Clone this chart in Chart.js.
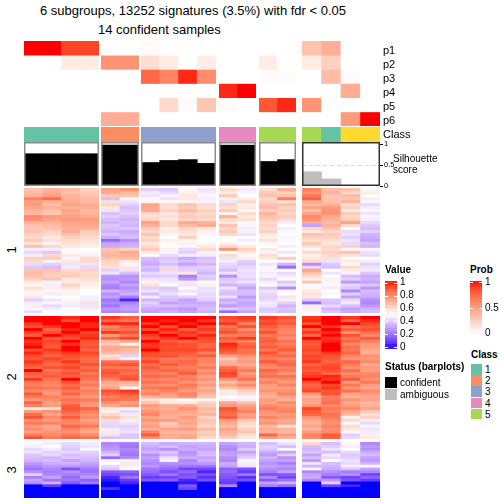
<!DOCTYPE html>
<html lang="en">
<head>
<meta charset="UTF-8">
<title>6 subgroups heatmap</title>
<style>
    html, body { margin: 0; padding: 0; background: #fff; }
    #page { position: relative; width: 504px; height: 504px; overflow: hidden; font-family: 'Liberation Sans', Arial, sans-serif; color: #000; }
    #page canvas { position: absolute; display: block; }
    .txt { position: absolute; white-space: nowrap; line-height: 1; }
    .b { font-weight: bold; }
</style>
<script src="https://cdn.jsdelivr.net/npm/chart.js"></script>
</head>
<body>
<div id="page"></div>
<script>
// sizes of the column groups, left to right
const groupSizes = [4, 2, 4, 2, 2, 4];

const probNames = ['p1', 'p2', 'p3', 'p4', 'p5', 'p6'];
const probRows = [
    [100, 100, 88, 88, 0, 0, 2, 0, 0, 0, 0, 0, 0, 0, 32, 42, 0, 0],
    [0, 0, 10, 10, 55, 55, 18, 10, 0, 10, 0, 0, 10, 0, 10, 25, 0, 0],
    [0, 0, 0, 0, 0, 0, 75, 62, 95, 58, 0, 0, 2, 2, 0, 35, 2, 0],
    [0, 0, 0, 0, 0, 0, 0, 0, 0, 0, 95, 100, 0, 0, 0, 0, 42, 0],
    [0, 0, 0, 0, 0, 0, 0, 20, 2, 30, 2, 0, 82, 95, 55, 0, 0, 0],
    [0, 0, 0, 0, 42, 42, 0, 0, 0, 0, 0, 0, 0, 0, 0, 0, 52, 100]
];
const classOfColumn = [1, 1, 1, 1, 2, 2, 3, 3, 3, 3, 4, 4, 5, 5, 5, 1, 6, 6];
const classColors = ['#66C2A5', '#FC8D62', '#8DA0CB', '#E78AC3', '#A6D854', '#FFD92F'];

const silhouette = [0.77, 0.77, 0.77, 0.77, 0.975, 0.975, 0.56, 0.61, 0.63, 0.54, 0.975, 0.975, 0.585, 0.63, 0.34, 0.17, 0, 0];
const confident = [1, 1, 1, 1, 1, 1, 1, 1, 1, 1, 1, 1, 1, 1, 0, 0, 0, 0];
const silhouetteTicks = [0, 0.5, 1];

const valueTicks = [0, 0.2, 0.4, 0.6, 0.8, 1];
const probTicks = [0, 0.5, 1];
const legendClasses = [1, 2, 3, 4, 5];

// heatmap values in percent, one line per row, 18 columns
const slice1 = [
    [66, 70, 68, 62, 74, 78, 40, 38, 52, 44, 60, 45, 60, 72, 82, 68, 66, 52],
    [68, 72, 66, 64, 72, 68, 46, 42, 54, 46, 56, 48, 64, 62, 78, 70, 60, 55],
    [70, 74, 70, 66, 64, 66, 44, 48, 56, 48, 64, 50, 66, 66, 84, 64, 68, 50],
    [82, 86, 70, 68, 36, 52, 52, 44, 56, 46, 54, 55, 60, 82, 88, 66, 64, 46],
    [74, 70, 72, 68, 58, 44, 48, 52, 52, 47, 44, 60, 62, 58, 72, 66, 70, 48],
    [76, 68, 74, 72, 62, 40, 74, 60, 66, 60, 62, 54, 66, 66, 68, 70, 58, 42],
    [72, 70, 70, 72, 56, 36, 72, 58, 64, 58, 58, 56, 68, 62, 74, 76, 62, 46],
    [70, 66, 74, 68, 44, 38, 72, 62, 68, 62, 64, 52, 62, 64, 66, 78, 56, 48],
    [68, 64, 72, 70, 36, 40, 60, 56, 62, 60, 52, 60, 70, 60, 74, 78, 64, 44],
    [80, 76, 74, 72, 40, 36, 58, 58, 64, 62, 70, 56, 66, 64, 80, 72, 60, 48],
    [78, 74, 76, 76, 36, 34, 62, 56, 60, 60, 60, 58, 64, 60, 78, 70, 62, 46],
    [70, 70, 74, 74, 34, 36, 74, 60, 72, 70, 56, 52, 60, 46, 72, 68, 74, 42],
    [66, 68, 72, 72, 38, 34, 70, 60, 68, 72, 66, 48, 62, 50, 30, 70, 60, 38],
    [64, 66, 70, 70, 36, 38, 64, 54, 60, 56, 60, 46, 58, 46, 60, 66, 50, 36],
    [66, 62, 72, 64, 34, 32, 60, 56, 58, 54, 64, 48, 62, 52, 56, 60, 42, 40],
    [62, 60, 66, 62, 38, 34, 66, 52, 56, 52, 60, 44, 56, 50, 66, 64, 44, 34],
    [60, 56, 62, 60, 32, 36, 60, 50, 62, 50, 50, 50, 54, 48, 62, 62, 40, 32],
    [64, 58, 60, 58, 18, 26, 62, 54, 52, 50, 50, 46, 58, 52, 58, 58, 44, 30],
    [58, 54, 58, 56, 30, 32, 56, 52, 54, 52, 54, 50, 52, 50, 64, 56, 42, 36],
    [66, 60, 56, 54, 32, 34, 60, 50, 48, 56, 60, 56, 50, 46, 58, 60, 62, 34],
    [46, 46, 52, 50, 66, 62, 64, 54, 42, 60, 78, 62, 56, 50, 52, 60, 48, 48],
    [42, 38, 50, 48, 68, 72, 56, 48, 40, 54, 50, 56, 48, 44, 60, 62, 66, 44],
    [46, 60, 56, 54, 70, 70, 50, 42, 46, 46, 60, 52, 60, 50, 54, 60, 58, 42],
    [62, 64, 52, 60, 66, 68, 36, 38, 32, 36, 44, 54, 56, 64, 56, 58, 50, 50],
    [60, 52, 56, 60, 62, 56, 34, 40, 36, 38, 46, 40, 50, 48, 60, 44, 56, 46],
    [42, 40, 44, 44, 60, 52, 32, 36, 30, 34, 42, 38, 44, 34, 26, 38, 52, 40],
    [38, 36, 46, 42, 58, 56, 36, 42, 38, 40, 40, 42, 48, 18, 42, 36, 60, 44],
    [66, 66, 60, 62, 40, 44, 34, 60, 40, 38, 36, 44, 52, 50, 74, 50, 56, 46],
    [68, 64, 62, 60, 44, 36, 42, 44, 56, 34, 44, 42, 46, 42, 66, 44, 48, 38],
    [66, 62, 64, 60, 28, 26, 38, 40, 22, 40, 26, 44, 48, 46, 60, 50, 36, 32],
    [62, 66, 56, 58, 26, 28, 44, 44, 28, 38, 38, 40, 42, 50, 54, 54, 40, 34],
    [56, 48, 56, 56, 30, 24, 54, 46, 46, 50, 40, 44, 46, 38, 66, 48, 28, 30],
    [52, 46, 62, 54, 24, 30, 58, 50, 44, 54, 34, 36, 50, 44, 50, 52, 42, 38],
    [58, 54, 56, 52, 22, 26, 40, 38, 50, 44, 44, 30, 38, 24, 48, 46, 38, 28],
    [54, 52, 52, 50, 34, 30, 44, 40, 44, 44, 38, 36, 44, 48, 56, 50, 24, 36],
    [48, 46, 54, 50, 26, 34, 36, 44, 48, 42, 36, 36, 42, 50, 58, 48, 40, 34],
    [56, 50, 50, 46, 30, 22, 46, 38, 40, 42, 44, 28, 40, 44, 56, 50, 30, 32],
    [40, 44, 48, 46, 20, 4, 34, 36, 30, 40, 32, 34, 42, 54, 38, 38, 42, 26],
    [46, 48, 54, 58, 24, 24, 40, 30, 32, 32, 36, 30, 46, 40, 18, 36, 46, 24],
    [54, 42, 46, 44, 20, 28, 36, 36, 34, 34, 28, 32, 44, 34, 52, 42, 36, 28],
    [52, 46, 50, 46, 28, 30, 32, 30, 28, 36, 40, 36, 38, 38, 54, 34, 30, 34],
    [42, 50, 48, 50, 24, 26, 30, 34, 30, 34, 18, 30, 40, 36, 48, 38, 32, 36]
];
const slice2 = [
    [100, 100, 98, 100, 96, 90, 100, 100, 100, 100, 94, 96, 96, 92, 96, 100, 96, 100],
    [100, 100, 92, 100, 88, 84, 100, 98, 100, 96, 90, 92, 92, 88, 98, 100, 88, 98],
    [96, 100, 100, 98, 98, 98, 96, 100, 98, 100, 96, 82, 94, 90, 92, 100, 100, 94],
    [92, 96, 100, 98, 80, 88, 100, 92, 100, 92, 84, 92, 90, 84, 100, 96, 84, 90],
    [100, 88, 98, 100, 84, 86, 94, 98, 90, 96, 88, 80, 86, 82, 90, 100, 90, 92],
    [94, 92, 100, 94, 96, 92, 100, 94, 96, 90, 92, 86, 92, 80, 96, 98, 78, 86],
    [90, 100, 96, 96, 76, 84, 96, 100, 94, 98, 82, 84, 84, 84, 88, 100, 92, 80],
    [100, 90, 92, 98, 88, 94, 92, 96, 100, 94, 90, 96, 88, 78, 100, 96, 84, 90],
    [96, 94, 100, 92, 68, 74, 100, 90, 88, 92, 86, 82, 90, 86, 92, 98, 88, 82],
    [98, 92, 96, 90, 64, 52, 96, 94, 92, 88, 98, 88, 86, 82, 90, 100, 80, 76],
    [100, 90, 100, 92, 72, 72, 96, 92, 92, 88, 96, 90, 90, 86, 92, 100, 86, 76],
    [92, 96, 100, 88, 72, 68, 100, 94, 94, 92, 92, 86, 84, 90, 94, 100, 84, 72],
    [98, 92, 96, 94, 68, 66, 94, 90, 90, 82, 88, 86, 92, 82, 90, 96, 88, 70],
    [94, 88, 92, 90, 58, 40, 92, 92, 88, 90, 74, 78, 86, 88, 94, 92, 82, 78],
    [90, 94, 90, 86, 62, 48, 88, 84, 84, 80, 64, 74, 84, 80, 92, 90, 76, 76],
    [96, 90, 96, 88, 86, 86, 94, 86, 88, 82, 70, 76, 90, 86, 96, 88, 88, 80],
    [92, 86, 90, 92, 90, 92, 86, 90, 86, 78, 72, 70, 82, 88, 88, 92, 84, 72],
    [88, 92, 94, 86, 84, 84, 90, 84, 82, 84, 86, 78, 80, 82, 92, 94, 78, 76],
    [100, 84, 88, 90, 90, 88, 86, 88, 86, 76, 90, 84, 88, 84, 90, 92, 86, 74],
    [90, 88, 92, 84, 92, 86, 84, 82, 90, 80, 94, 76, 84, 78, 94, 88, 80, 80],
    [86, 90, 88, 88, 88, 90, 88, 86, 80, 74, 92, 80, 86, 86, 96, 98, 84, 82],
    [96, 86, 100, 86, 82, 92, 82, 80, 84, 78, 78, 86, 78, 80, 100, 96, 90, 78],
    [84, 82, 92, 80, 72, 70, 86, 84, 78, 72, 68, 74, 82, 76, 92, 100, 76, 84],
    [82, 80, 86, 84, 70, 66, 80, 78, 84, 76, 74, 80, 76, 82, 88, 94, 84, 76],
    [86, 84, 90, 78, 74, 52, 84, 86, 80, 70, 66, 70, 74, 74, 90, 96, 78, 72],
    [80, 78, 84, 82, 92, 96, 78, 82, 76, 74, 54, 62, 78, 78, 94, 90, 86, 80],
    [90, 76, 88, 80, 88, 90, 82, 76, 82, 68, 56, 58, 72, 82, 76, 92, 72, 76],
    [84, 82, 80, 76, 82, 86, 70, 72, 78, 66, 50, 48, 70, 74, 70, 82, 70, 72],
    [76, 80, 86, 84, 86, 84, 58, 54, 50, 52, 46, 46, 76, 70, 74, 84, 78, 74],
    [88, 74, 82, 78, 78, 74, 66, 56, 56, 62, 72, 66, 74, 80, 72, 86, 72, 68],
    [82, 76, 90, 76, 72, 78, 76, 72, 72, 64, 76, 74, 80, 76, 78, 80, 76, 70],
    [54, 58, 92, 88, 56, 52, 72, 70, 78, 68, 92, 78, 84, 80, 94, 84, 80, 74],
    [76, 78, 88, 82, 54, 42, 78, 74, 74, 66, 88, 82, 78, 82, 90, 82, 72, 64],
    [86, 74, 84, 78, 60, 46, 82, 72, 70, 70, 86, 74, 76, 76, 88, 86, 68, 58],
    [92, 80, 90, 80, 66, 58, 74, 70, 76, 62, 90, 76, 82, 78, 78, 84, 54, 62],
    [78, 76, 82, 74, 60, 54, 78, 76, 72, 66, 76, 64, 74, 72, 72, 80, 60, 46],
    [84, 82, 80, 78, 42, 44, 72, 64, 74, 64, 72, 60, 78, 74, 70, 78, 48, 42],
    [76, 72, 88, 84, 40, 40, 76, 66, 70, 60, 68, 58, 68, 58, 74, 82, 60, 48],
    [80, 74, 82, 76, 46, 42, 70, 74, 76, 68, 74, 62, 72, 70, 68, 78, 56, 44],
    [74, 78, 78, 72, 56, 44, 82, 68, 68, 62, 70, 66, 70, 68, 76, 80, 52, 46],
    [84, 80, 84, 80, 44, 38, 90, 72, 72, 64, 68, 58, 88, 76, 82, 90, 40, 54],
    [92, 84, 88, 86, 36, 38, 78, 70, 74, 60, 62, 56, 74, 70, 80, 88, 42, 55]
];
const slice3 = [
    [48, 46, 42, 46, 24, 22, 36, 32, 34, 34, 30, 34, 36, 44, 60, 36, 52, 24],
    [46, 50, 40, 44, 26, 20, 32, 36, 30, 32, 26, 32, 40, 36, 36, 40, 46, 28],
    [42, 46, 38, 48, 28, 24, 30, 26, 32, 30, 24, 38, 38, 48, 34, 44, 50, 26],
    [44, 40, 42, 40, 34, 22, 34, 38, 26, 34, 28, 30, 32, 30, 38, 36, 42, 32],
    [38, 42, 36, 38, 40, 20, 26, 34, 28, 36, 30, 36, 28, 40, 30, 46, 38, 36],
    [36, 34, 38, 36, 18, 26, 30, 44, 32, 30, 26, 40, 34, 26, 36, 42, 40, 30],
    [34, 36, 30, 34, 48, 48, 26, 48, 24, 34, 24, 52, 30, 30, 28, 50, 44, 28],
    [28, 32, 34, 30, 50, 56, 24, 26, 26, 28, 32, 46, 26, 22, 44, 36, 42, 34],
    [24, 28, 28, 26, 42, 46, 28, 22, 20, 20, 30, 44, 30, 28, 34, 34, 46, 52],
    [20, 24, 12, 22, 38, 50, 20, 18, 10, 10, 16, 12, 26, 24, 52, 32, 38, 30],
    [26, 22, 26, 20, 14, 16, 18, 12, 18, 4, 18, 8, 22, 30, 24, 26, 22, 24],
    [40, 24, 22, 24, 10, 12, 14, 20, 12, 12, 14, 20, 12, 14, 30, 22, 26, 10],
    [22, 30, 18, 28, 4, 20, 8, 10, 14, 6, 12, 6, 24, 10, 32, 14, 10, 16],
    [30, 20, 20, 16, 2, 8, 14, 16, 4, 12, 10, 12, 14, 20, 24, 28, 12, 8],
    [26, 34, 14, 22, 0, 4, 0, 0, 2, 0, 8, 0, 30, 34, 0, 40, 0, 0],
    [0, 8, 0, 0, 0, 0, 0, 0, 14, 0, 24, 0, 22, 18, 0, 10, 4, 0],
    [0, 0, 0, 0, 6, 0, 0, 0, 10, 0, 0, 0, 0, 0, 0, 0, 0, 0],
    [0, 0, 0, 0, 0, 0, 0, 0, 0, 0, 0, 0, 0, 0, 0, 0, 0, 0],
    [0, 0, 0, 0, 0, 0, 0, 0, 0, 0, 0, 0, 0, 0, 0, 0, 0, 0],
    [0, 0, 0, 0, 0, 0, 0, 0, 0, 0, 0, 0, 0, 0, 0, 0, 0, 0]
];

// layout in pixels
const groupBoxes = [[24, 99], [101, 139], [141, 216], [219, 256], [259, 296], [302, 380]];
const sliceBoxes = [[slice1, 188, 313], [slice2, 316, 439], [slice3, 442, 498]];

Chart.defaults.font.family = "'Liberation Sans', Arial, sans-serif";
Chart.defaults.animation = false;
Chart.defaults.plugins.legend.display = false;
Chart.defaults.plugins.tooltip.enabled = false;
const page = document.getElementById('page');

// white -> red and blue -> white -> red are interpolated in LAB, like the original
function toLab(hex) {
    const c = [1, 3, 5].map(i => parseInt(hex.substr(i, 2), 16) / 255)
        .map(v => v > 0.04045 ? Math.pow((v + 0.055) / 1.055, 2.4) : v / 12.92);
    const x = (0.4124 * c[0] + 0.3576 * c[1] + 0.1805 * c[2]) / 0.95047;
    const y = 0.2126 * c[0] + 0.7152 * c[1] + 0.0722 * c[2];
    const z = (0.0193 * c[0] + 0.1192 * c[1] + 0.9505 * c[2]) / 1.08883;
    const f = t => t > 0.008856 ? Math.cbrt(t) : 7.787 * t + 16 / 116;
    return [116 * f(y) - 16, 500 * (f(x) - f(y)), 200 * (f(y) - f(z))];
}
function fromLab(l) {
    const fy = (l[0] + 16) / 116, fx = l[1] / 500 + fy, fz = fy - l[2] / 200;
    const g = t => t * t * t > 0.008856 ? t * t * t : (t - 16 / 116) / 7.787;
    const x = g(fx) * 0.95047, y = g(fy), z = g(fz) * 1.08883;
    const rgb = [
        3.2406 * x - 1.5372 * y - 0.4986 * z,
        -0.9689 * x + 1.8758 * y + 0.0415 * z,
        0.0557 * x - 0.204 * y + 1.057 * z
    ].map(v => {
        v = Math.min(1, Math.max(0, v));
        return Math.round(255 * (v > 0.0031308 ? 1.055 * Math.pow(v, 1 / 2.4) - 0.055 : 12.92 * v));
    });
    return `rgb(${rgb[0]},${rgb[1]},${rgb[2]})`;
}
const labWhite = toLab('#FFFFFF'), labRed = toLab('#FF0000'), labBlue = toLab('#0000FF');
const mix = (a, b, t) => fromLab(a.map((v, i) => v + (b[i] - v) * t));
const probColor = p => mix(labWhite, labRed, p);
const valueColor = v => v >= 0.5 ? mix(labWhite, labRed, (v - 0.5) * 2) : mix(labBlue, labWhite, v * 2);

// pad is blank room above and below the plot, for tick labels that hang over it
function addChart(left, top, width, height, config, pad) {
    pad = pad || 0;
    const canvas = document.createElement('canvas');
    canvas.width = width;
    canvas.height = height + pad * 2;
    canvas.style.left = left + 'px';
    canvas.style.top = (top - pad) + 'px';
    canvas.style.width = width + 'px';
    canvas.style.height = (height + pad * 2) + 'px';
    page.appendChild(canvas);
    config.options = Object.assign({
        responsive: false,
        devicePixelRatio: 1,
        layout: { autoPadding: false, padding: { top: pad, bottom: pad, left: 0, right: 0 } }
    }, config.options);
    return new Chart(canvas, config);
}

function addText(str, x, y, size, cls, rotate) {
    const el = document.createElement('div');
    el.className = 'txt ' + (cls || '');
    el.textContent = str;
    el.style.left = x + 'px';
    el.style.top = y + 'px';
    el.style.fontSize = size + 'px';
    if (rotate) el.style.transform = 'translate(-50%,-50%) rotate(-90deg)';
    page.appendChild(el);
}

// one stacked bar per column, one dataset per row
function heatChart(left, top, width, height, rows, colorOf) {
    addChart(left, top, width, height, {
        type: 'bar',
        data: {
            labels: rows[0].map((v, i) => i),
            datasets: rows.map(r => ({
                data: r.map(() => 1),
                backgroundColor: r.map(colorOf),
                borderWidth: 0,
                barPercentage: 1,
                categoryPercentage: 1
            }))
        },
        options: {
            scales: {
                x: { display: false, stacked: true },
                y: { display: false, stacked: true, min: 0, max: rows.length, reverse: true }
            }
        }
    });
}

// silhouette frame drawn after the bars
const framePlugin = {
    id: 'frame',
    afterDraw(chart, args, opts) {
        const a = chart.chartArea, ctx = chart.ctx;
        ctx.save();
        ctx.strokeStyle = opts.color;
        ctx.lineWidth = 1.5;
        ctx.strokeRect(a.left + 0.75, a.top + 0.75, a.right - a.left - 1.5, a.bottom - a.top - 1.5);
        ctx.restore();
    }
};

function silhouetteChart(left, width, values, flags, last) {
    const axisRoom = last ? 20 : 0;
    addChart(left, 142, width + axisRoom, 44, {
        type: 'bar',
        data: {
            labels: values.map((v, i) => i),
            datasets: [{
                data: values,
                backgroundColor: flags.map(f => f ? '#000000' : '#BEBEBE'),
                borderWidth: 0,
                barPercentage: 1,
                categoryPercentage: 1
            }]
        },
        options: {
            plugins: { frame: { color: last ? '#333333' : '#8a8a8a' } },
            scales: {
                x: { display: false },
                y: {
                    display: last,
                    position: 'right',
                    min: 0,
                    max: 1.05,
                    afterBuildTicks: s => { s.ticks = silhouetteTicks.map(v => ({ value: v })); },
                    afterFit: s => { s.width = axisRoom; },
                    border: { display: false, dash: [4, 3] },
                    grid: {
                        color: c => c.tick && c.tick.value === 0.5 ? '#d8d8d8' : 'rgba(0,0,0,0)',
                        tickColor: '#000',
                        tickLength: 3,
                        tickBorderDash: [],
                        lineWidth: 1
                    },
                    ticks: { color: '#000', font: { size: 7.5 }, padding: 1, autoSkip: false, callback: v => String(v) }
                }
            }
        },
        plugins: [framePlugin]
    }, last ? 6 : 0);
}

// colour bar legend: floating bars on a real 0..1 axis, white marks at the ticks
function colorBar(left, top, width, height, levels, colorOf, tickValues, pad) {
    const axisRoom = 34;
    const whiteTicks = {
        id: 'whiteTicks',
        afterDatasetsDraw(chart) {
            const a = chart.chartArea, ctx = chart.ctx, y = chart.scales.y;
            ctx.save();
            ctx.fillStyle = '#fff';
            tickValues.forEach(v => {
                const py = Math.round(y.getPixelForValue(v));
                ctx.fillRect(a.left, py, 3, 1);
                ctx.fillRect(a.right - 3, py, 3, 1);
            });
            ctx.restore();
        }
    };
    addChart(left, top, width + axisRoom, height, {
        type: 'bar',
        data: {
            labels: ['bar'],
            datasets: levels.slice(0, -1).map((lo, i) => ({
                data: [[lo - (i === 0 ? pad : 0), levels[i + 1] + (i === levels.length - 2 ? pad : 0)]],
                backgroundColor: colorOf((lo + levels[i + 1]) / 2),
                borderWidth: 0,
                grouped: false,
                barPercentage: 1,
                categoryPercentage: 1
            }))
        },
        options: {
            scales: {
                x: { display: false },
                y: {
                    position: 'right',
                    min: -pad,
                    max: 1 + pad,
                    afterBuildTicks: s => { s.ticks = tickValues.map(v => ({ value: v })); },
                    afterFit: s => { s.width = axisRoom; },
                    border: { display: false },
                    grid: { display: false, drawTicks: false },
                    ticks: { color: '#000', font: { size: 10 }, padding: 3, autoSkip: false, callback: v => String(v) }
                }
            }
        },
        plugins: [whiteTicks]
    }, 7);
}

// titles
addText('6 subgroups, 13252 signatures (3.5%) with fdr < 0.05', 40, 4, 13);
addText('14 confident samples', 98, 23, 13);

// per-group panels
let offset = 0;
groupSizes.forEach((n, g) => {
    const left = groupBoxes[g][0], width = groupBoxes[g][1] - left;
    const end = offset + n;
    heatChart(left, 41, width, 85, probRows.map(r => r.slice(offset, end).map(v => v / 100)), probColor);
    heatChart(left, 127, width, 15, [classOfColumn.slice(offset, end)], c => classColors[c - 1]);
    silhouetteChart(left, width, silhouette.slice(offset, end), confident.slice(offset, end), g === groupSizes.length - 1);
    sliceBoxes.forEach(([rows, top, bottom]) => {
        heatChart(left, top, width, bottom - top, rows.map(r => r.slice(offset, end).map(v => v / 100)), valueColor);
    });
    offset = end;
});

// row names of the probability block
probNames.forEach((name, i) => addText(name, 383, 44.5 + i * 14, 11));
addText('Class', 383, 129, 11);
addText('Silhouette', 393, 154, 10);
addText('score', 393, 165, 10);

// slice labels
addText('1', 11, 250, 13, '', true);
addText('2', 11, 377, 13, '', true);
addText('3', 11, 470, 13, '', true);

// legends
const valueLevels = [0, 0.05, 0.1, 0.15, 0.2, 0.25, 0.3, 0.35, 0.4, 0.45, 0.5, 0.55, 0.6, 0.65, 0.7, 0.75, 0.8, 0.85, 0.9, 0.95, 1];
addText('Value', 385, 265, 10, 'b');
colorBar(385, 279, 12, 72, valueLevels, valueColor, valueTicks, 0.025);
addText('Prob', 470, 265, 10, 'b');
colorBar(470, 279, 12, 58, valueLevels, probColor, probTicks, 0.025);
addText('Class', 471, 350, 10, 'b');
legendClasses.forEach((c, i) => {
    heatChart(471, 364 + i * 11.2, 11, 10.5, [[c]], k => classColors[k - 1]);
    addText(String(c), 485, 365 + i * 11.2, 10);
});
addText('Status (barplots)', 385, 362, 10, 'b');
heatChart(385, 377, 12, 11, [[0]], () => '#000000');
heatChart(385, 388.5, 12, 11, [[1]], () => '#BEBEBE');
addText('confident', 400, 378, 10);
addText('ambiguous', 400, 389.5, 10);
</script>
</body>
</html>
